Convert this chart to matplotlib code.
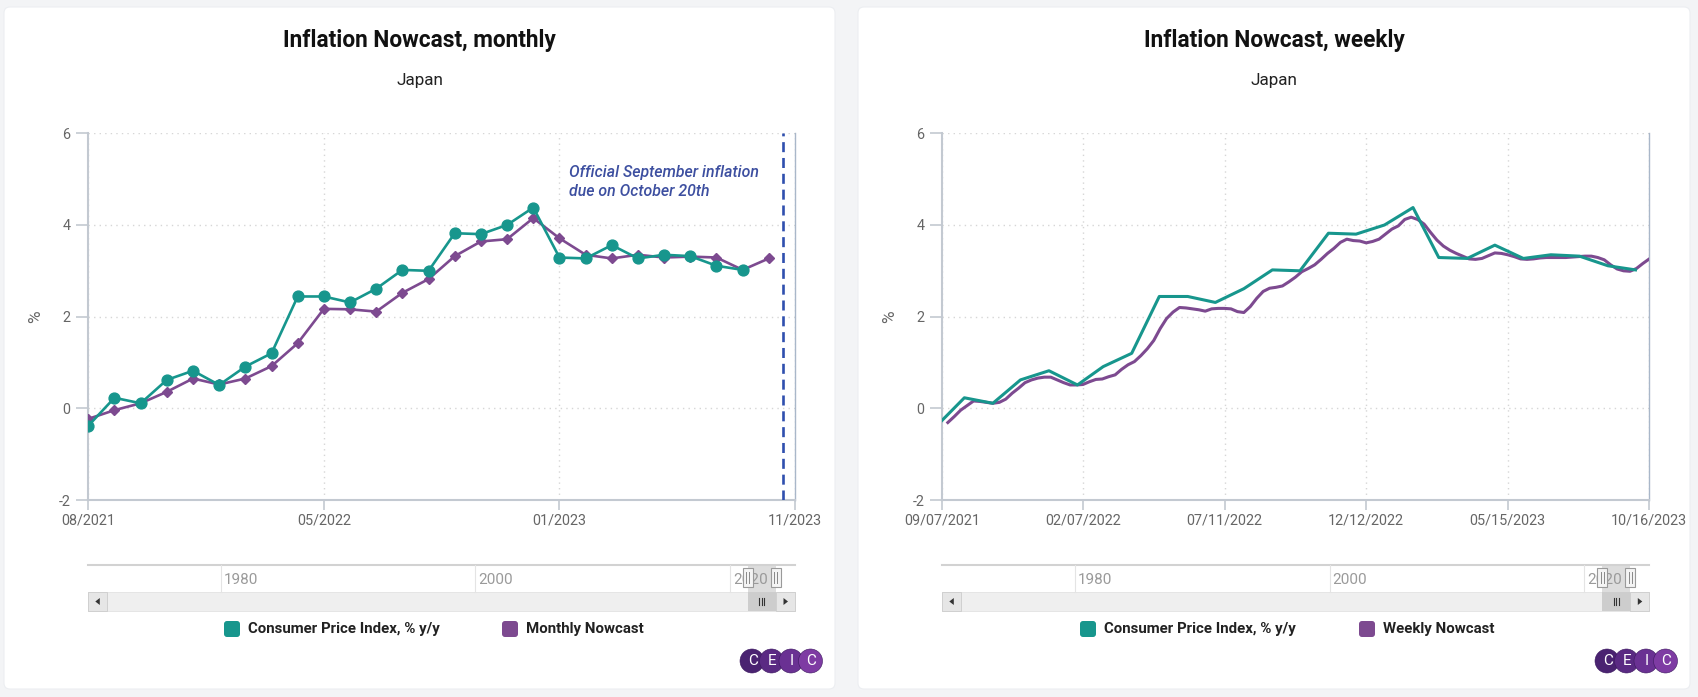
# Japan inflation nowcast: monthly and weekly panels, CEIC style
import numpy as np
import pandas as pd
import matplotlib
matplotlib.use("Agg")
import matplotlib.pyplot as plt
from matplotlib.patches import FancyBboxPatch, Rectangle, Circle, Polygon

plt.rcParams["font.family"] = ["Roboto", "DejaVu Sans"]
plt.rcParams["axes.unicode_minus"] = False

W, H = 1699, 697

# =============================================================================
# Data
# =============================================================================

# monthly panel (one point per month, category style axis)
month_tick_pos = [0, 9, 18, 27]
month_tick_labels = ["08/2021", "05/2022", "01/2023", "11/2023"]

cpi_monthly = [-0.38, 0.23, 0.11, 0.62, 0.82, 0.51, 0.91, 1.20, 2.44, 2.44,
               2.31, 2.61, 3.02, 3.00, 3.82, 3.80, 4.00, 4.38, 3.29, 3.27,
               3.56, 3.27, 3.35, 3.32, 3.11, 3.02]
nowcast_monthly = [-0.23, -0.04, 0.11, 0.36, 0.65, 0.52, 0.65, 0.92, 1.42, 2.17,
                   2.16, 2.11, 2.52, 2.82, 3.32, 3.64, 3.69, 4.15, 3.71, 3.35,
                   3.27, 3.35, 3.29, 3.31, 3.29, 3.02, 3.27]

release_line_pos = 26.56
release_note = "Official September inflation\ndue on October 20th"

# weekly panel
cpi_dates = pd.date_range("2021-09-01", periods=len(cpi_monthly), freq="MS")
nowcast_weekly = [-0.31, -0.18, -0.04, 0.06, 0.16, 0.15, 0.13, 0.11, 0.13, 0.20,
                  0.33, 0.44, 0.56, 0.62, 0.66, 0.68, 0.68, 0.62, 0.56, 0.51,
                  0.51, 0.52, 0.58, 0.63, 0.64, 0.69, 0.73, 0.85, 0.95, 1.02,
                  1.15, 1.30, 1.48, 1.74, 1.96, 2.10, 2.20, 2.19, 2.17, 2.15,
                  2.12, 2.17, 2.18, 2.18, 2.17, 2.11, 2.09, 2.22, 2.40, 2.55,
                  2.62, 2.64, 2.67, 2.76, 2.86, 2.98, 3.05, 3.13, 3.25, 3.38,
                  3.49, 3.62, 3.69, 3.66, 3.65, 3.61, 3.64, 3.69, 3.80, 3.91,
                  3.98, 4.12, 4.17, 4.12, 4.02, 3.84, 3.67, 3.54, 3.45, 3.38,
                  3.32, 3.26, 3.25, 3.27, 3.33, 3.39, 3.38, 3.35, 3.31, 3.26,
                  3.25, 3.26, 3.28, 3.29, 3.29, 3.29, 3.29, 3.30, 3.31, 3.32,
                  3.32, 3.29, 3.24, 3.13, 3.04, 3.00, 2.99, 3.05, 3.16, 3.26]
weekly_dates = pd.date_range("2021-09-13", periods=len(nowcast_weekly), freq="7D")
week_ticks = pd.to_datetime(["2021-09-07", "2022-02-07", "2022-07-11",
                             "2022-12-12", "2023-05-15", "2023-10-16"])

y_ticks = [-2, 0, 2, 4, 6]
nav_years = [1980, 2000, 2020]

# =============================================================================
# Style
# =============================================================================

TEAL = "#17968d"
PURPLE = "#7d4a90"
AXIS_GRAY = "#c3c9d1"
GRID_GRAY = "#d6d6d6"
TICK_TEXT = "#666666"
NOTE_BLUE = "#3d4fa0"
LINE_BLUE = "#2f4fae"
PAGE_BG = "#f3f4f6"

NAV_START, NAV_END = 1969.6, 2025.1
NAV_WINDOW = (2021.4, 2023.6)
LOGO_COLORS = ["#4a2371", "#5a2a83", "#6a3193", "#7e3ba3"]


def fig_rect(x0, y0, x1, y1):
    return [x0 / W, 1 - y1 / H, (x1 - x0) / W, (y1 - y0) / H]


def style_axes(ax):
    ax.set_facecolor("white")
    ax.set_ylim(-2, 6)
    ax.set_yticks(y_ticks)
    ax.grid(True, color=GRID_GRAY, linestyle=(0, (1, 3)), linewidth=1.0)
    ax.set_axisbelow(True)
    ax.spines["top"].set_visible(False)
    for side in ["left", "bottom"]:
        ax.spines[side].set_color(AXIS_GRAY)
        ax.spines[side].set_linewidth(1.5)
    ax.spines["right"].set_color("#a9b7c9")
    ax.spines["right"].set_linewidth(1.0)
    ax.tick_params(axis="y", colors=AXIS_GRAY, labelcolor=TICK_TEXT,
                   labelsize=10.4, length=9, width=1.2, pad=4)
    ax.tick_params(axis="x", colors=AXIS_GRAY, labelcolor=TICK_TEXT,
                   labelsize=10.4, length=7, width=1.2, pad=3)
    ax.text(-0.074, 0.5, "%", transform=ax.transAxes, rotation=90,
            ha="center", va="center", color=TICK_TEXT, fontsize=12.5)


def draw_card(bg, x0, x1, title, subtitle):
    bg.add_patch(FancyBboxPatch((x0, 7), x1 - x0, 682,
                                boxstyle="round,pad=0,rounding_size=6",
                                fc="white", ec="#eceef1", lw=0.8))
    cx = (x0 + x1) / 2
    bg.text(cx, 40, title, ha="center", va="center", fontsize=16.3,
            fontweight="bold", color="#111111")
    bg.text(cx, 81, subtitle, ha="center", va="center", fontsize=12.3,
            color="#222222")


def draw_navigator(bg, x0, x1):
    def to_px(year):
        return x0 + (year - NAV_START) / (NAV_END - NAV_START) * (x1 - x0)

    top, bar_top, bar_h = 565, 592, 19
    bg.plot([x0, x1], [top, top], color="#d2d2d2", lw=1.5)
    for yr in nav_years:
        px = to_px(yr)
        bg.plot([px, px], [top, bar_top], color="#e4e4e4", lw=0.8)
        bg.text(px + 3, 580, str(yr), ha="left", va="center", fontsize=11,
                color="#9a9a9a")

    h0, h1 = to_px(NAV_WINDOW[0]), to_px(NAV_WINDOW[1])
    bg.add_patch(Rectangle((h0, top), h1 - h0, bar_top - top,
                           fc="#cfcfcf", alpha=0.7, lw=0))

    # scrollbar
    bg.add_patch(Rectangle((x0, bar_top), x1 - x0, bar_h, fc="#efefef",
                           ec="#e2e2e2", lw=0.6))
    bg.add_patch(Rectangle((h0, bar_top), h1 - h0, bar_h, fc="#cdcdcd", lw=0))
    for dx in (-2.5, 0, 2.5):
        cx = (h0 + h1) / 2 + dx
        bg.plot([cx, cx], [bar_top + 6, bar_top + 13], color="#333333", lw=0.8)
    for bx, direction in ((x0, -1), (x1 - bar_h, 1)):
        bg.add_patch(Rectangle((bx, bar_top), bar_h, bar_h, fc="#e6e6e6",
                               ec="#cccccc", lw=0.6))
        cx, cy = bx + bar_h / 2, bar_top + bar_h / 2
        bg.add_patch(Polygon([(cx + 2.5 * direction, cy),
                              (cx - 2 * direction, cy - 3.5),
                              (cx - 2 * direction, cy + 3.5)],
                             closed=True, fc="#333333", lw=0))

    # handles
    for hx in (h0, h1):
        bg.add_patch(Rectangle((hx - 5, 568), 10, 19, fc="#f4f4f4",
                               ec="#9a9a9a", lw=0.8, zorder=5))
        for dx in (-1.5, 1.5):
            bg.plot([hx + dx, hx + dx], [572, 583], color="#888888", lw=0.7,
                    zorder=6)


def draw_legend(bg, items):
    for sq_x, color, label in items:
        bg.add_patch(FancyBboxPatch((sq_x, 621), 16, 16,
                                    boxstyle="round,pad=0,rounding_size=3",
                                    fc=color, lw=0))
        bg.text(sq_x + 24, 629, label, ha="left", va="center", fontsize=10.8,
                fontweight="bold", color="#222222")


def draw_logo(bg, x_left):
    d = 24
    step = 19.5
    for i, (letter, color) in enumerate(zip("CEIC", LOGO_COLORS)):
        cx = x_left + d / 2 + i * step
        bg.add_patch(Circle((cx, 661), d / 2, fc=color, ec="#3d1a60",
                            lw=0.4, zorder=3 + i))
        bg.text(cx + 1, 661, letter, ha="center", va="center", fontsize=11,
                color="white", zorder=10)


# =============================================================================
# Figure
# =============================================================================

fig = plt.figure(figsize=(W / 100, H / 100), dpi=100)
fig.patch.set_facecolor(PAGE_BG)

bg = fig.add_axes([0, 0, 1, 1], zorder=0)
bg.set_xlim(0, W)
bg.set_ylim(H, 0)
bg.axis("off")

draw_card(bg, 4, 835, "Inflation Nowcast, monthly", "Japan")
draw_card(bg, 858, 1690, "Inflation Nowcast, weekly", "Japan")

# ---- monthly panel ----
ax1 = fig.add_axes(fig_rect(88.3, 133.3, 795, 500), zorder=1)
style_axes(ax1)
ax1.set_xlim(0, 27)
ax1.set_xticks(month_tick_pos)
ax1.set_xticklabels(month_tick_labels)

ax1.plot(range(len(nowcast_monthly)), nowcast_monthly, color=PURPLE, lw=1.9,
         marker="D", markersize=5.2, zorder=3)
ax1.plot(range(len(cpi_monthly)), cpi_monthly, color=TEAL, lw=1.9,
         marker="o", markersize=7.8, zorder=4)
ax1.axvline(release_line_pos, color=LINE_BLUE, lw=1.9, dashes=(3.8, 2.2),
            zorder=5)
ax1.text(18.35, 4.94, release_note, ha="left", va="center", fontsize=11.4,
         style="italic", fontweight="medium", color=NOTE_BLUE, linespacing=1.3)

# ---- weekly panel ----
ax2 = fig.add_axes(fig_rect(942.3, 133.3, 1649.3, 500), zorder=1)
style_axes(ax2)
ax2.plot(weekly_dates, nowcast_weekly, color=PURPLE, lw=2.2, zorder=3,
         solid_joinstyle="round")
ax2.plot(cpi_dates, cpi_monthly, color=TEAL, lw=2.2, zorder=4,
         solid_joinstyle="round")
ax2.set_xlim(week_ticks[0], week_ticks[-1])
ax2.set_xticks(week_ticks)
ax2.set_xticklabels([d.strftime("%m/%d/%Y") for d in week_ticks])

# ---- navigators, legends, logos ----
draw_navigator(bg, 88.3, 795)
draw_navigator(bg, 942.3, 1649.3)

draw_legend(bg, [(224, TEAL, "Consumer Price Index, % y/y"),
                 (502, PURPLE, "Monthly Nowcast")])
draw_legend(bg, [(1080, TEAL, "Consumer Price Index, % y/y"),
                 (1359, PURPLE, "Weekly Nowcast")])

draw_logo(bg, 740)
draw_logo(bg, 1595)

fig.savefig("out.png", dpi=100, facecolor=fig.get_facecolor())
